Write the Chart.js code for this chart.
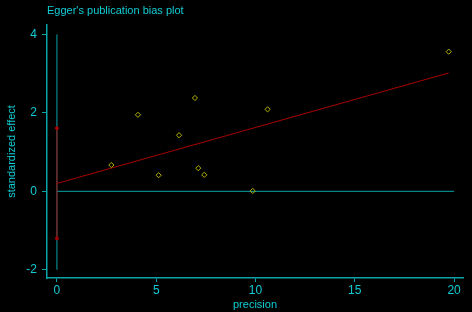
<!DOCTYPE html>
<html>
<head>
<meta charset="utf-8">
<script src="https://cdn.jsdelivr.net/npm/chart.js@4"></script>
<style>
  html, body { margin: 0; padding: 0; background: #000; }
  #wrap { width: 472px; height: 312px; }
</style>
</head>
<body>
<div id="wrap"><canvas id="chartEgger"></canvas></div>
<script>
// study data
const precision = [2.74, 4.08, 5.12, 6.15, 6.95, 7.12, 7.42, 9.86, 10.61, 19.73];
const stdEffect = [0.67, 1.95, 0.41, 1.43, 2.38, 0.59, 0.42, 0.01, 2.09, 3.56];
const xTicks = [0, 5, 10, 15, 20];
const yTicks = [-2, 0, 2, 4];
// Egger regression: intercept and its CI, slope
const intercept = 0.20;
const slope = 0.1428;
const interceptCI = [-1.20, 1.61];

const cyan = '#10ccd4';
const axisCol = '#08a4a8';
const red = '#a80000';
const yellow = '#b4b400';

let points = precision.map((p, i) => ({ x: p, y: stdEffect[i] }));
let maxP = Math.max(...precision);
let fitLine = [{ x: 0, y: intercept }, { x: maxP, y: intercept + slope * maxP }];

// first dataset is painted on top
let data = {
    datasets: [{
            label: 'studies',
            data: points,
            pointStyle: 'rectRot',
            pointRadius: 2.6,
            borderWidth: 1,
            borderColor: yellow,
            backgroundColor: 'rgba(0,0,0,0)'
        }, {
            label: 'CI',
            data: [{ x: 0, y: interceptCI[0] }, { x: 0, y: interceptCI[1] }],
            showLine: true,
            borderColor: red,
            backgroundColor: red,
            borderWidth: 1,
            pointRadius: 1.5
        }, {
            label: 'fit',
            data: fitLine,
            showLine: true,
            borderColor: red,
            borderWidth: 1,
            pointRadius: 0
        }, {
            label: 'zero x',
            data: [{ x: 0, y: 0 }, { x: 20, y: 0 }],
            showLine: true,
            borderColor: axisCol,
            borderWidth: 1,
            pointRadius: 0
        }, {
            label: 'zero y',
            data: [{ x: 0, y: yTicks[0] }, { x: 0, y: yTicks[yTicks.length - 1] }],
            showLine: true,
            borderColor: axisCol,
            borderWidth: 1,
            pointRadius: 0
        }
    ]
};

const titlePlugin = {
    id: 'topTitle',
    afterDraw(chart) {
        const c = chart.ctx;
        c.save();
        c.fillStyle = cyan;
        c.font = '11px "Liberation Sans", Arial, sans-serif';
        c.textBaseline = 'middle';
        c.textAlign = 'left';
        c.fillText("Egger's publication bias plot", 47, 11);
        c.restore();
    }
};

const bgPlugin = {
    id: 'bg',
    beforeDraw(chart) {
        const c = chart.ctx;
        c.save();
        c.fillStyle = '#000';
        c.fillRect(0, 0, chart.width, chart.height);
        c.restore();
    }
};

let tickFont = { family: '"Liberation Sans", Arial, sans-serif', size: 12 };

let options = {
    responsive: true,
    maintainAspectRatio: false,
    animation: false,
    layout: { padding: { top: 25, right: 9, left: 0, bottom: 0 } },
    scales: {
        x: {
            type: 'linear',
            min: -0.5,
            max: 20.45,
            afterBuildTicks: s => { s.ticks = xTicks.map(v => ({ value: v })); },
            afterFit: s => { s.height = 34; },
            grid: { drawOnChartArea: false, drawTicks: true, tickLength: 4, color: axisCol },
            border: { display: true, color: axisCol, width: 1.5 },
            ticks: { color: cyan, font: tickFont, padding: 1, maxRotation: 0 },
            title: { display: true, text: 'precision', color: cyan, font: { family: tickFont.family, size: 11 }, padding: { top: 0, bottom: 0 } }
        },
        y: {
            type: 'linear',
            min: -2.21,
            max: 4.24,
            afterBuildTicks: s => { s.ticks = yTicks.map(v => ({ value: v })); },
            afterFit: s => { s.width = 47; },
            grid: { drawOnChartArea: false, drawTicks: true, tickLength: 5, color: axisCol },
            border: { display: true, color: axisCol, width: 1.5 },
            ticks: { color: cyan, font: tickFont, padding: 5 },
            title: { display: true, text: 'standardized effect', color: cyan, font: { family: tickFont.family, size: 11 }, padding: { top: 5, bottom: 0 } }
        }
    },
    plugins: {
        legend: { display: false },
        tooltip: { enabled: false }
    }
};

const ctx = document.getElementById("chartEgger").getContext("2d");
const myChart = new Chart(ctx, {
    type: 'scatter',
    data: data,
    options: options,
    plugins: [bgPlugin, titlePlugin]
});
</script>
</body>
</html>
